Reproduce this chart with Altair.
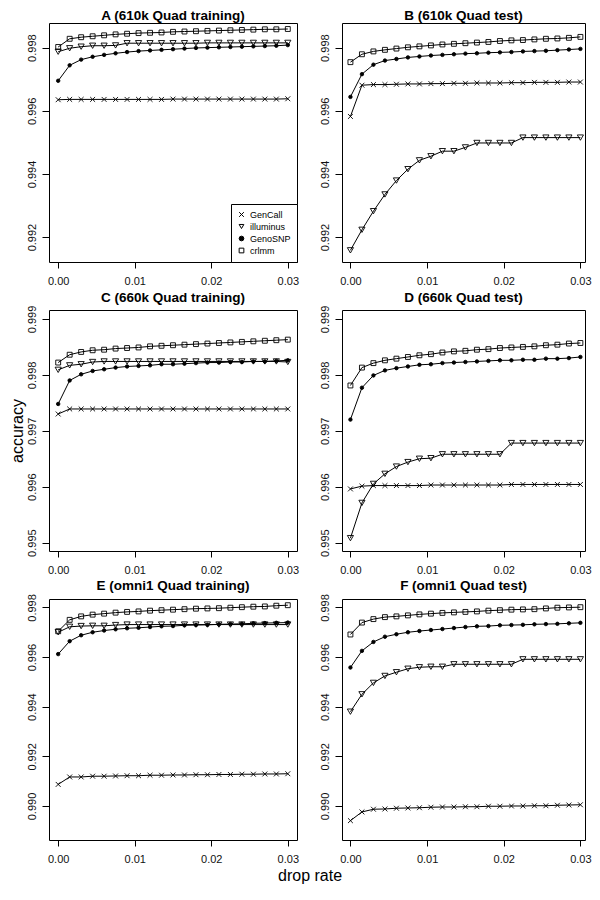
import altair as alt
import pandas as pd

drop_rate = [0.0, 0.0015, 0.003, 0.0045, 0.006, 0.0075, 0.009, 0.0105, 0.012, 0.0135,
             0.015, 0.0165, 0.018, 0.0195, 0.021, 0.0225, 0.024, 0.0255, 0.027, 0.0285, 0.03]
series_names = ["GenCall", "illuminus", "GenoSNP", "crlmm"]

# Panel A (610k Quad training)
a_gencall = [0.99635, 0.99636, 0.99636, 0.99636, 0.99636, 0.99636, 0.99636, 0.99636, 0.99636, 0.99636,
             0.99637, 0.99637, 0.99637, 0.99637, 0.99637, 0.99637, 0.99637, 0.99637, 0.99637, 0.99637, 0.99638]
a_illuminus = [0.99787, 0.99798, 0.99803, 0.99806, 0.99806, 0.99807, 0.99814, 0.99814, 0.99814, 0.99814,
               0.99814, 0.99814, 0.99814, 0.99815, 0.99815, 0.99815, 0.99815, 0.99815, 0.99815, 0.99815, 0.99815]
a_genosnp = [0.99695, 0.99744, 0.99762, 0.99771, 0.99777, 0.99782, 0.99786, 0.99789, 0.99791, 0.99793,
             0.99795, 0.99797, 0.99799, 0.99800, 0.99801, 0.99802, 0.99803, 0.99804, 0.99805, 0.99806, 0.99808]
a_crlmm = [0.99802, 0.99828, 0.99833, 0.99836, 0.99839, 0.99842, 0.99844, 0.99846, 0.99847, 0.99848,
           0.99850, 0.99851, 0.99852, 0.99853, 0.99854, 0.99855, 0.99856, 0.99857, 0.99858, 0.99858, 0.99859]

# Panel B (610k Quad test)
b_gencall = [0.99582, 0.99681, 0.99683, 0.99683, 0.99684, 0.99685, 0.99685, 0.99686, 0.99686, 0.99687,
             0.99687, 0.99688, 0.99688, 0.99688, 0.99689, 0.99689, 0.99690, 0.99690, 0.99690, 0.99691, 0.99691]
b_illuminus = [0.99158, 0.99223, 0.99282, 0.99335, 0.99379, 0.99415, 0.99443, 0.99456, 0.99472, 0.99472,
               0.99484, 0.99498, 0.99498, 0.99498, 0.99498, 0.99515, 0.99515, 0.99515, 0.99515, 0.99515, 0.99515]
b_genosnp = [0.99644, 0.99716, 0.99746, 0.99759, 0.99764, 0.99769, 0.99772, 0.99775, 0.99777, 0.99779,
             0.99781, 0.99782, 0.99784, 0.99785, 0.99786, 0.99788, 0.99789, 0.99790, 0.99792, 0.99794, 0.99796]
b_crlmm = [0.99754, 0.99779, 0.99788, 0.99793, 0.99797, 0.99801, 0.99804, 0.99807, 0.99810, 0.99812,
           0.99814, 0.99816, 0.99818, 0.99821, 0.99823, 0.99824, 0.99826, 0.99828, 0.99829, 0.99831, 0.99834]

# Panel C (660k Quad training)
c_gencall = [0.99730, 0.99739, 0.99739, 0.99739, 0.99739, 0.99739, 0.99739, 0.99739, 0.99739, 0.99739,
             0.99739, 0.99739, 0.99739, 0.99739, 0.99739, 0.99739, 0.99739, 0.99739, 0.99739, 0.99739, 0.99739]
c_illuminus = [0.99809, 0.99817, 0.99819, 0.99823, 0.99824, 0.99824, 0.99824, 0.99824, 0.99824, 0.99824,
               0.99824, 0.99824, 0.99824, 0.99824, 0.99824, 0.99824, 0.99824, 0.99824, 0.99824, 0.99824, 0.99823]
c_genosnp = [0.99748, 0.99790, 0.99801, 0.99807, 0.99810, 0.99813, 0.99815, 0.99816, 0.99817, 0.99819,
             0.99819, 0.99820, 0.99821, 0.99822, 0.99822, 0.99823, 0.99823, 0.99824, 0.99824, 0.99825, 0.99826]
c_crlmm = [0.99822, 0.99836, 0.99841, 0.99844, 0.99845, 0.99847, 0.99848, 0.99849, 0.99851, 0.99852,
           0.99853, 0.99854, 0.99855, 0.99856, 0.99857, 0.99858, 0.99859, 0.99860, 0.99861, 0.99862, 0.99863]

# Panel D (660k Quad test)
d_gencall = [0.99596, 0.99601, 0.99602, 0.99602, 0.99602, 0.99602, 0.99602, 0.99603, 0.99603, 0.99603,
             0.99603, 0.99603, 0.99603, 0.99603, 0.99604, 0.99604, 0.99604, 0.99604, 0.99604, 0.99604, 0.99604]
d_illuminus = [0.99508, 0.99571, 0.99605, 0.99623, 0.99636, 0.99644, 0.99650, 0.99651, 0.99658, 0.99658,
               0.99658, 0.99658, 0.99658, 0.99658, 0.99678, 0.99678, 0.99678, 0.99678, 0.99678, 0.99678, 0.99678]
d_genosnp = [0.99720, 0.99777, 0.99799, 0.99808, 0.99812, 0.99815, 0.99818, 0.99819, 0.99821, 0.99822,
             0.99823, 0.99824, 0.99825, 0.99826, 0.99826, 0.99827, 0.99827, 0.99829, 0.99829, 0.99830, 0.99832]
d_crlmm = [0.99781, 0.99813, 0.99821, 0.99826, 0.99829, 0.99832, 0.99835, 0.99837, 0.99840, 0.99842,
           0.99843, 0.99845, 0.99846, 0.99848, 0.99849, 0.99850, 0.99851, 0.99853, 0.99854, 0.99856, 0.99857]

# Panel E (omni1 Quad training)
e_gencall = [0.99087, 0.99117, 0.99117, 0.99120, 0.99120, 0.99121, 0.99122, 0.99122, 0.99124, 0.99124,
             0.99125, 0.99125, 0.99126, 0.99126, 0.99127, 0.99127, 0.99128, 0.99128, 0.99129, 0.99129, 0.99130]
e_illuminus = [0.99700, 0.99722, 0.99725, 0.99726, 0.99726, 0.99729, 0.99731, 0.99731, 0.99731, 0.99731,
               0.99731, 0.99731, 0.99731, 0.99731, 0.99731, 0.99731, 0.99731, 0.99731, 0.99731, 0.99731, 0.99731]
e_genosnp = [0.99612, 0.99664, 0.99688, 0.99700, 0.99707, 0.99712, 0.99716, 0.99718, 0.99721, 0.99724,
             0.99725, 0.99728, 0.99729, 0.99730, 0.99732, 0.99733, 0.99734, 0.99736, 0.99737, 0.99738, 0.99739]
e_crlmm = [0.99704, 0.99750, 0.99764, 0.99771, 0.99775, 0.99779, 0.99782, 0.99784, 0.99787, 0.99789,
           0.99791, 0.99793, 0.99795, 0.99796, 0.99797, 0.99799, 0.99801, 0.99803, 0.99804, 0.99807, 0.99809]

# Panel F (omni1 Quad test)
f_gencall = [0.98941, 0.98976, 0.98987, 0.98988, 0.98991, 0.98992, 0.98993, 0.98995, 0.98996, 0.98996,
             0.98997, 0.98997, 0.98999, 0.98999, 0.99000, 0.99000, 0.99001, 0.99001, 0.99003, 0.99004, 0.99005]
f_illuminus = [0.99380, 0.99450, 0.99496, 0.99524, 0.99539, 0.99553, 0.99559, 0.99561, 0.99561, 0.99571,
               0.99571, 0.99571, 0.99571, 0.99571, 0.99571, 0.99591, 0.99591, 0.99591, 0.99591, 0.99591, 0.99591]
f_genosnp = [0.99558, 0.99625, 0.99661, 0.99682, 0.99692, 0.99700, 0.99705, 0.99709, 0.99713, 0.99717,
             0.99721, 0.99724, 0.99725, 0.99728, 0.99729, 0.99730, 0.99732, 0.99733, 0.99734, 0.99736, 0.99738]
f_crlmm = [0.99691, 0.99739, 0.99753, 0.99761, 0.99764, 0.99768, 0.99772, 0.99775, 0.99778, 0.99780,
           0.99782, 0.99784, 0.99787, 0.99789, 0.99791, 0.99792, 0.99793, 0.99796, 0.99799, 0.99800, 0.99801]

panel_titles = ["A (610k Quad training)", "B (610k Quad test)", "C (660k Quad training)",
                "D (660k Quad test)", "E (omni1 Quad training)", "F  (omni1 Quad test)"]
x_ticks = [0.0, 0.01, 0.02, 0.03]
y_ticks_ab = [0.992, 0.994, 0.996, 0.998]
y_ticks_cd = [0.995, 0.996, 0.997, 0.998, 0.999]
y_ticks_ef = [0.990, 0.992, 0.994, 0.996, 0.998]

FONT = "Liberation Sans"
X_PATH = "M-1,-1L1,1M-1,1L1,-1"
MARKER_SIZE = {"GenCall": 24, "illuminus": 38, "GenoSNP": 12, "crlmm": 24}


def make_panel(title, series, ydom, yvals, xdom, w, h, show_legend, ytitle):
    rows = []
    for name, vals in zip(series_names, series):
        for x, v in zip(drop_rate, vals):
            rows.append({"drop": x, "acc": v, "series": name})
    df = pd.DataFrame(rows)

    x_enc = alt.X("drop:Q", scale=alt.Scale(domain=xdom, nice=False, zero=False),
                  axis=alt.Axis(values=x_ticks, format=".2f", title=None))
    if ytitle:
        y_axis = alt.Axis(values=yvals, format=".3f", title=ytitle)
    else:
        y_axis = alt.Axis(values=yvals, format=".3f", title=None)
    y_enc = alt.Y("acc:Q", scale=alt.Scale(domain=ydom, nice=False, zero=False), axis=y_axis)

    if show_legend:
        leg = alt.Legend(title=None, orient="bottom-right", offset=0, padding=6,
                         strokeColor="black", fillColor="white", labelFontSize=9, labelFont=FONT,
                         labelColor="black", rowPadding=2, labelOffset=4,
                         symbolStrokeWidth=1, symbolSize=22)
    else:
        leg = None

    shape_enc = alt.Shape("series:N", scale=alt.Scale(domain=series_names,
                          range=[X_PATH, "triangle-down", "circle", "square"]), legend=leg)
    fill_enc = alt.Fill("series:N", scale=alt.Scale(domain=series_names,
                        range=["transparent", "transparent", "black", "transparent"]), legend=leg)
    stroke_enc = alt.Stroke("series:N", scale=alt.Scale(domain=series_names,
                            range=["black", "black", "black", "black"]), legend=leg)

    base = alt.Chart(df)
    layers = [base.mark_line(color="black", strokeWidth=1).encode(
        x=x_enc, y=y_enc, detail="series:N")]
    for name in series_names:
        layers.append(
            base.transform_filter(alt.datum.series == name)
            .mark_point(strokeWidth=0.9, opacity=1, size=MARKER_SIZE[name])
            .encode(x=x_enc, y=y_enc, shape=shape_enc, fill=fill_enc, stroke=stroke_enc)
        )

    return alt.layer(*layers).properties(
        width=w, height=h,
        title=alt.TitleParams(text=title, fontSize=13.5, fontWeight="bold", font=FONT,
                              color="black", anchor="middle", offset=1))


xdom_left = [-0.0012, 0.0312]
xdom_right = [-0.0011, 0.0306]
ydom_ab = [0.99121, 0.99878]
ydom_cd = [0.99485, 0.99916]
ydom_ef = [0.98863, 0.99834]

panels = [
    make_panel(panel_titles[0], [a_gencall, a_illuminus, a_genosnp, a_crlmm], ydom_ab, y_ticks_ab,
               xdom_left, 248, 239, True, None),
    make_panel(panel_titles[1], [b_gencall, b_illuminus, b_genosnp, b_crlmm], ydom_ab, y_ticks_ab,
               xdom_right, 243, 239, False, None),
    make_panel(panel_titles[2], [c_gencall, c_illuminus, c_genosnp, c_crlmm], ydom_cd, y_ticks_cd,
               xdom_left, 248, 241, False, "accuracy"),
    make_panel(panel_titles[3], [d_gencall, d_illuminus, d_genosnp, d_crlmm], ydom_cd, y_ticks_cd,
               xdom_right, 243, 241, False, None),
    make_panel(panel_titles[4], [e_gencall, e_illuminus, e_genosnp, e_crlmm], ydom_ef, y_ticks_ef,
               xdom_left, 248, 241, False, None),
    make_panel(panel_titles[5], [f_gencall, f_illuminus, f_genosnp, f_crlmm], ydom_ef, y_ticks_ef,
               xdom_right, 243, 241, False, None),
]

chart = alt.concat(
    *panels, columns=2, spacing={"row": 48, "column": 45}, bounds="flush",
    padding=0,
    title=alt.TitleParams(text="drop rate", orient="bottom", anchor="middle", fontSize=16,
                          fontWeight="normal", font=FONT, color="black", offset=3, dx=10),
).resolve_legend(
    shape="independent", fill="independent", stroke="independent"
).configure_view(
    stroke="black", strokeWidth=1
).configure_axis(
    grid=False, domain=False, tickColor="black", tickWidth=1,
    labelColor="#111111", labelFont=FONT, labelFontSize=11, labelFlush=False,
    titleFont=FONT, titleFontSize=16, titleFontWeight="normal", titleColor="black"
).configure_axisX(
    tickSize=6, labelPadding=7
).configure_axisY(
    tickSize=7, labelPadding=5, labelAngle=270, labelAlign="center", labelBaseline="bottom",
    titlePadding=1
)

chart.save("out.html", embed_options={"renderer": "svg", "actions": False})
